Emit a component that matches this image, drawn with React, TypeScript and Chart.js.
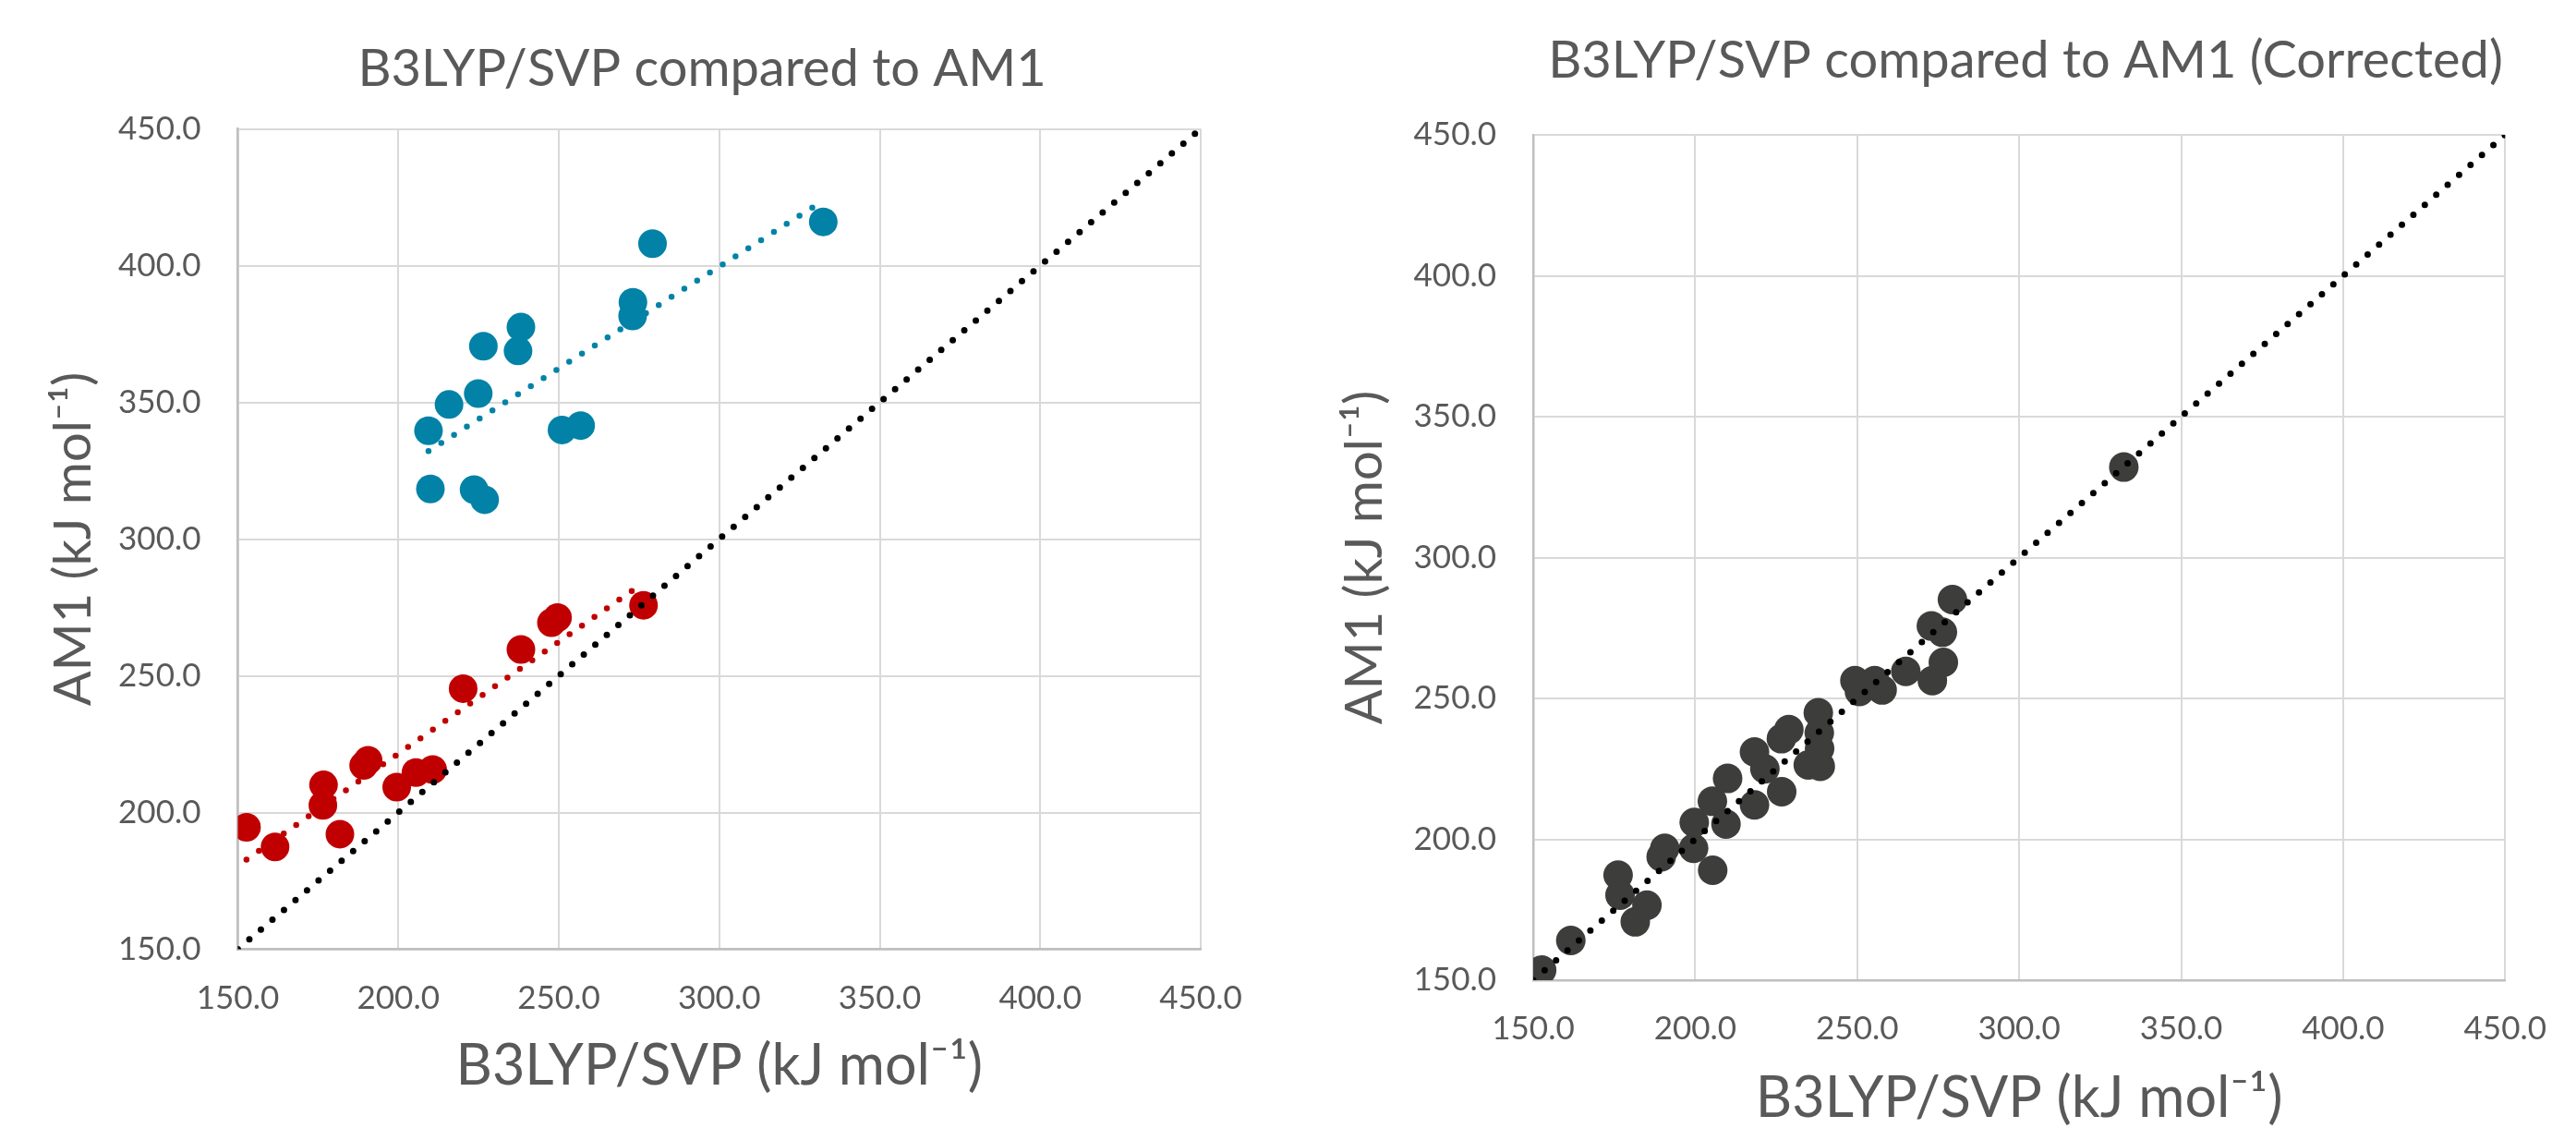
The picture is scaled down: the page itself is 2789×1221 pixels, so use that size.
import React, { useEffect, useRef } from "react";
import { Chart, registerables } from "chart.js";

Chart.register(...registerables);

// ---------- data ----------
const axisTicks = [150, 200, 250, 300, 350, 400, 450];

// Left chart: B3LYP/SVP (x) vs AM1 (y)
const blueX = [332.4, 279.2, 273.1, 273.0, 238.2, 237.3, 226.5, 224.9, 215.8, 209.4, 251.0, 256.8, 210.0, 223.6, 226.9];
const blueY = [416.0, 408.0, 386.6, 381.6, 377.5, 368.8, 370.5, 353.2, 349.2, 339.6, 339.9, 341.5, 318.3, 318.1, 314.4];

const redX = [152.7, 161.6, 176.7, 176.5, 181.8, 189.2, 190.6, 199.5, 205.5, 210.7, 220.2, 238.2, 247.7, 249.6, 276.4];
const redY = [194.6, 187.4, 210.1, 202.6, 192.1, 217.2, 219.1, 209.3, 214.6, 215.7, 245.3, 259.6, 269.4, 271.3, 275.8];

// trend lines (end points)
const blueTrendX = [209.4, 331.4];
const blueTrendY = [332.2, 423.0];
const redTrendX = [152.7, 275.4];
const redTrendY = [182.8, 283.2];

// identity line
const identityX = [150, 450];
const identityY = [150, 450];

// Right chart: corrected
const grayX = [152.6, 161.6, 176.2, 176.8, 181.5, 185.1, 189.5, 190.6, 199.5, 199.7, 205.4, 205.3, 209.5, 210.0, 218.3, 218.3, 221.5, 226.7, 226.6, 228.9, 234.9, 238.6, 238.3, 238.0, 238.4, 249.3, 250.7, 255.4, 257.7, 265.0, 273.2, 276.6, 272.9, 276.3, 279.4, 332.3];
const grayY = [153.6, 164.1, 187.3, 180.2, 170.7, 176.6, 193.8, 196.8, 196.8, 206.0, 189.0, 213.5, 205.4, 221.6, 231.0, 212.2, 225.0, 216.9, 235.7, 238.9, 226.4, 225.9, 237.8, 244.9, 232.2, 256.3, 252.5, 256.3, 253.0, 259.6, 256.3, 262.8, 275.7, 273.5, 285.1, 332.1];

const leftTitle = "B3LYP/SVP compared to AM1";
const rightTitle = "B3LYP/SVP compared to AM1 (Corrected)";
const xTitle = "B3LYP/SVP (kJ mol\u207B\u00B9)";
const yTitle = "AM1 (kJ mol\u207B\u00B9)";

// ---------- styles ----------
const FONT = "Lato";
const TEXT = "#595959";
const GRID = "#d9d9d9";
const AXIS_LINE = "#bfbfbf";
const BLUE = "#0382a7";
const RED = "#c00000";
const GRAY = "#3d3d3b";
const H = 1221;

const pts = (xs: number[], ys: number[]) => xs.map((x, i) => ({ x, y: ys[i] }));

function dotted(label: string, xs: number[], ys: number[], color: string, width: number) {
  return {
    label,
    data: pts(xs, ys),
    showLine: true,
    borderColor: color,
    backgroundColor: color,
    borderWidth: width,
    borderDash: [0, 16.4],
    borderCapStyle: "round",
    pointRadius: 0,
    pointHoverRadius: 0,
    fill: false,
    order: 0,
  };
}

function markers(label: string, xs: number[], ys: number[], color: string, r: number) {
  return {
    label,
    data: pts(xs, ys),
    showLine: false,
    backgroundColor: color,
    borderColor: color,
    pointRadius: r,
    pointHoverRadius: r,
    pointBorderWidth: 0,
    order: 1,
  };
}

function scale(axis: "x" | "y", title: string, titleSize: number, titlePad: any, tickPad: number, fit: number) {
  return {
    type: "linear",
    position: axis === "x" ? "bottom" : "left",
    min: axisTicks[0],
    max: axisTicks[axisTicks.length - 1],
    afterBuildTicks: (s: any) => {
      s.ticks = axisTicks.map((v) => ({ value: v }));
    },
    afterFit: (s: any) => {
      if (axis === "x") s.height = fit;
      else s.width = fit;
    },
    ticks: {
      callback: (v: any) => Number(v).toFixed(1),
      color: TEXT,
      font: { family: FONT, size: 35 },
      padding: tickPad,
      maxRotation: 0,
      autoSkip: false,
    },
    grid: { color: GRID, lineWidth: 2, drawTicks: false },
    border: { color: AXIS_LINE, width: 2.5 },
    title: {
      display: true,
      text: title,
      color: TEXT,
      font: { family: FONT, size: titleSize },
      padding: titlePad,
    },
  };
}

const headingPlugin = {
  id: "heading",
  afterDraw(chart: any, _args: any, opts: any) {
    const ctx = chart.ctx;
    ctx.save();
    ctx.font = `${opts.size}px ${FONT}`;
    ctx.fillStyle = TEXT;
    ctx.textAlign = "center";
    ctx.textBaseline = "middle";
    ctx.fillText(opts.text, opts.x, opts.y);
    ctx.restore();
  },
};

function buildLeft(): any {
  return {
    type: "scatter",
    data: {
      datasets: [
        dotted("y = x", identityX, identityY, "#000000", 7),
        dotted("Trend (blue)", blueTrendX, blueTrendY, BLUE, 6.5),
        dotted("Trend (red)", redTrendX, redTrendY, RED, 6.5),
        markers("Series blue", blueX, blueY, BLUE, 15.5),
        markers("Series red", redX, redY, RED, 15.5),
      ],
    },
    plugins: [headingPlugin],
    options: {
      responsive: false,
      animation: false,
      devicePixelRatio: 1,
      layout: { padding: { left: 20, right: 95, top: 139.5, bottom: 0 } },
      scales: {
        x: scale("x", xTitle, 61, { top: 0, bottom: 30 }, 32.5, 193.5),
        y: scale("y", yTitle, 56, { top: 26, bottom: 0 }, 40, 237.5),
      },
      plugins: {
        legend: { display: false },
        tooltip: { enabled: false },
        heading: { text: leftTitle, size: 56, x: 760, y: 75 },
      },
    },
  };
}

function buildRight(): any {
  return {
    type: "scatter",
    data: {
      datasets: [
        dotted("y = x", identityX, identityY, "#000000", 7),
        markers("Corrected", grayX, grayY, GRAY, 16),
      ],
    },
    plugins: [headingPlugin],
    options: {
      responsive: false,
      animation: false,
      devicePixelRatio: 1,
      layout: { padding: { left: 20, right: 52, top: 146, bottom: 0 } },
      scales: {
        x: scale("x", xTitle, 61, { top: 0, bottom: -5 }, 32, 160),
        y: scale("y", yTitle, 56, { top: 29, bottom: 0 }, 40, 245),
      },
      plugins: {
        legend: { display: false },
        tooltip: { enabled: false },
        heading: { text: rightTitle, size: 56, x: 798, y: 66 },
      },
    },
  };
}

function Panel({ left, width, build }: { left: number; width: number; build: () => any }) {
  const ref = useRef<HTMLCanvasElement>(null);
  useEffect(() => {
    const chart = new Chart(ref.current as HTMLCanvasElement, build());
    return () => chart.destroy();
  }, [build]);
  return (
    <canvas
      ref={ref}
      width={width}
      height={H}
      style={{ position: "absolute", left, top: 0, width, height: H }}
    />
  );
}

export default function App() {
  return (
    <div
      style={{
        position: "absolute",
        left: 0,
        top: 0,
        width: 2789,
        height: H,
        overflow: "hidden",
        background: "#ffffff",
      }}
    >
      <Panel left={0} width={1395} build={buildLeft} />
      <Panel left={1395} width={1394} build={buildRight} />
    </div>
  );
}
